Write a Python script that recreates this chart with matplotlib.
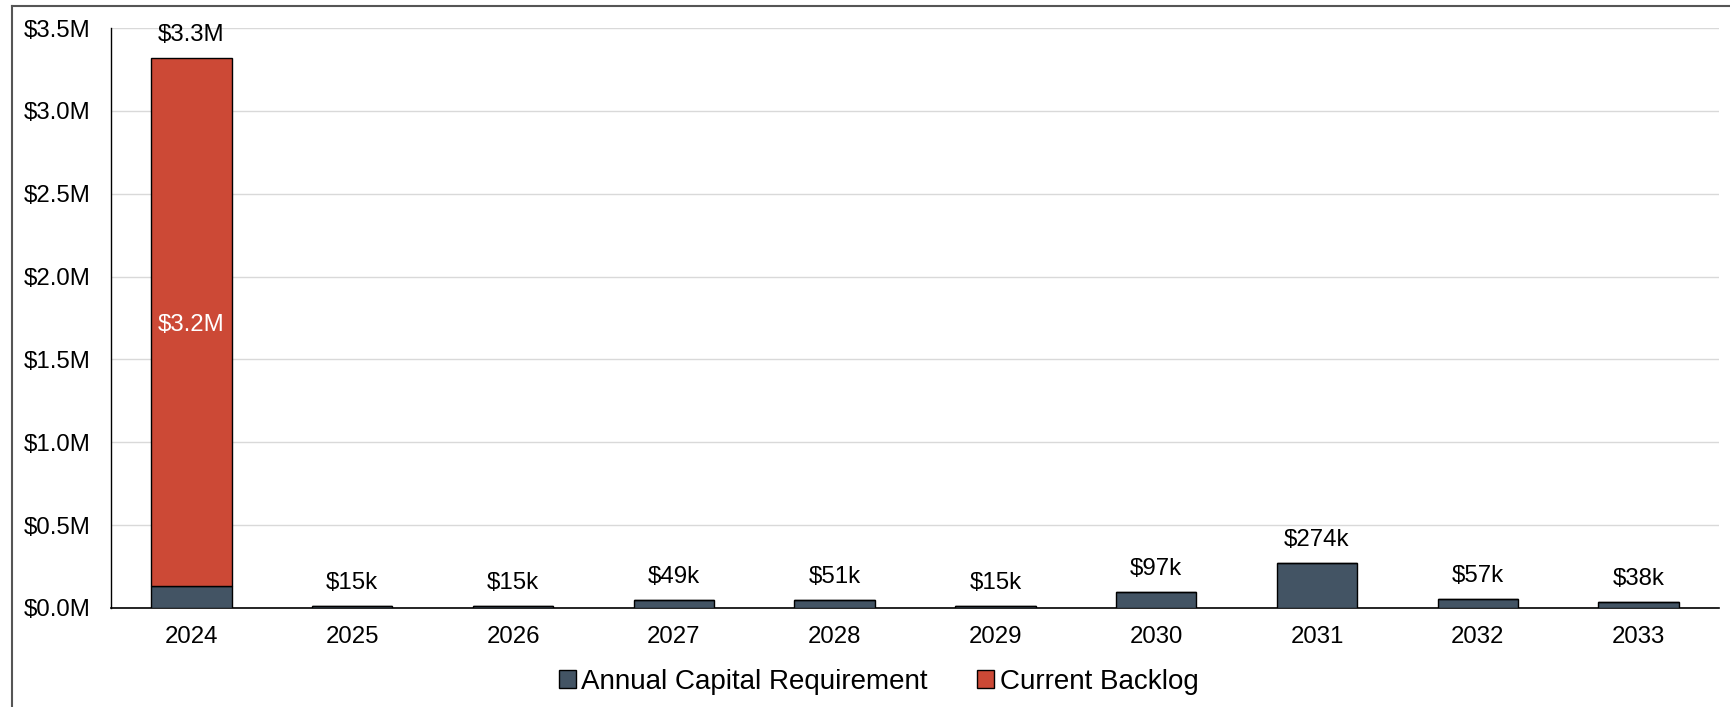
import matplotlib
matplotlib.use("Agg")
import matplotlib.pyplot as plt
from matplotlib.ticker import FuncFormatter
from matplotlib.lines import Line2D
import numpy as np

years = ["2024", "2025", "2026", "2027", "2028", "2029", "2030", "2031", "2032", "2033"]
annual_capital = [130_000, 15_000, 15_000, 49_000, 51_000, 15_000, 97_000, 274_000, 57_000, 38_000]
current_backlog = [3_190_000, 0, 0, 0, 0, 0, 0, 0, 0, 0]
total_labels = ["$3.3M", "$15k", "$15k", "$49k", "$51k", "$15k", "$97k", "$274k", "$57k", "$38k"]
backlog_labels = ["$3.2M", "", "", "", "", "", "", "", "", ""]

ACR_COLOR = "#435464"
BACKLOG_COLOR = "#CC4936"
FS = 17.3

plt.rcParams["font.family"] = ["Liberation Sans", "DejaVu Sans"]

fig = plt.figure(figsize=(17.30, 7.07), dpi=100)
ax = fig.add_axes([111 / 1730, 1 - 608 / 707, (1719 - 111) / 1730, (608 - 28) / 707])

x = np.arange(len(years))
acr = np.array(annual_capital)
bkl = np.array(current_backlog)

ax.bar(x, acr, width=0.5, color=ACR_COLOR, edgecolor="black", linewidth=1.0,
       label="Annual Capital Requirement", zorder=3)
ax.bar(x, bkl, width=0.5, bottom=acr, color=BACKLOG_COLOR, edgecolor="black",
       linewidth=1.0, label="Current Backlog", zorder=3)

totals = acr + bkl
for xi, tot, lab in zip(x, totals, total_labels):
    ax.annotate(lab, (xi, tot), xytext=(0, 8.5), textcoords="offset points",
                ha="center", va="bottom", fontsize=FS, color="black")
for xi, a, b, lab in zip(x, acr, bkl, backlog_labels):
    if lab:
        ax.text(xi, a + b / 2, lab, ha="center", va="center_baseline", fontsize=FS,
                color="white", zorder=4)

ax.set_xlim(-0.5, len(years) - 0.5)
ax.set_ylim(0, 3_500_000)
ax.set_yticks(np.arange(0, 3_500_001, 500_000))
ax.yaxis.set_major_formatter(FuncFormatter(lambda v, p: f"${v / 1e6:.1f}M"))
ax.set_xticks(x)
ax.set_xticklabels(years)
ax.tick_params(axis="both", length=0, labelsize=FS, colors="black")
ax.tick_params(axis="y", pad=15)
ax.tick_params(axis="x", pad=13)

ax.grid(axis="y", color="#d9d9d9", linewidth=1.0, zorder=0)
ax.set_axisbelow(True)
for side in ("top", "right"):
    ax.spines[side].set_visible(False)
ax.spines["left"].set_color("black")
ax.spines["bottom"].set_color("black")
ax.spines["left"].set_linewidth(1.0)
ax.spines["bottom"].set_linewidth(1.2)

leg = fig.legend(loc="center", bbox_to_anchor=(878.5 / 1730, 1 - 682 / 707), ncol=2,
                 frameon=False, fontsize=20, handlelength=0.62, handleheight=0.62,
                 handletextpad=0.2, columnspacing=1.76)

# Figure outline along top and left edges
fig.add_artist(Line2D([12 / 1730, 1.0], [1 - 6 / 707, 1 - 6 / 707], transform=fig.transFigure,
                      color="#555555", linewidth=1.5))
fig.add_artist(Line2D([12 / 1730, 12 / 1730], [0.0, 1 - 6 / 707], transform=fig.transFigure,
                      color="#555555", linewidth=1.5))

fig.savefig("out.png", dpi=100, facecolor="white")
